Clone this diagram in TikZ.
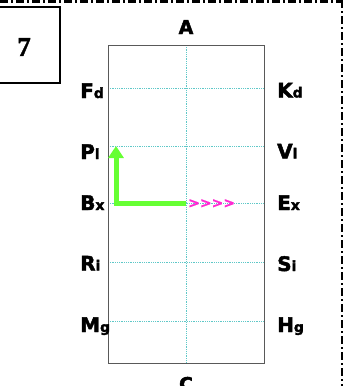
\documentclass[tikz,border=0pt]{standalone}
\usepackage{fontspec}
\usepackage{tikz}
\usetikzlibrary{arrows.meta}
\newfontfamily\lblfont{DejaVu Sans}[UprightFont={* Bold}, FakeBold=2.2]
\newfontfamily\chevfont{DejaVu Sans}[UprightFont={* Bold}, FakeBold=1]
\newfontfamily\numfont{Liberation Serif}[UprightFont={* Bold}, FakeBold=1.5]
\definecolor{gridcyan}{RGB}{95,200,200}
\definecolor{arrowgreen}{RGB}{102,255,51}
\definecolor{chevmagenta}{RGB}{255,40,210}
\newcommand{\lbl}[2]{{\fontsize{20}{20}\selectfont #1}{\fontsize{14}{14}\selectfont #2}}

\begin{document}
\begin{tikzpicture}[x=1pt, y=-1pt, >=Stealth,
		font=\lblfont,
		gridline/.style={gridcyan, densely dotted, line width=0.8pt},
		sidelabel/.style={anchor=base west, inner sep=0pt}]
		\useasboundingbox (0,0) rectangle (345,386);
		% frame borders, dash-dot
		\draw[line width=3pt, dash pattern=on 8pt off 3pt on 2pt off 3pt] (0,1.5) -- (342,1.5);
		\draw[line width=2pt, dash pattern=on 8pt off 3pt on 2pt off 3pt] (342,0) -- (342,386);
		% number box
		\draw[line width=2pt] (-2,6.5) rectangle (60,82.5);
		\node (num) at (24,47) {\numfont\fontsize{27}{27}\selectfont 7};
		% main rectangle and dotted grid
		\coordinate (TL) at (108,45);
		\coordinate (BR) at (264,363);
		\coordinate (Top) at (186,45);
		\coordinate (Bot) at (186,363);
		\draw[gridline] (Top) -- (Bot);
		\draw[gridline] (108,88) -- (264,88);
		\draw[gridline] (108,146) -- (264,146);
		\draw[gridline] (108,203) -- (264,203);
		\draw[gridline] (108,262) -- (264,262);
		\draw[gridline] (108,321) -- (264,321);
		\draw[black!65, line width=0.9pt] (TL) rectangle (BR);
		\node[anchor=base] (A) at (186,34) {\fontsize{19}{19}\selectfont A};
		\node[anchor=base] (C) at (186,391) {\fontsize{19}{19}\selectfont C};
		% side labels
		\node[sidelabel] (Fd) at (80,98) {\lbl{F}{d}};
		\node[sidelabel] (Pl) at (80,159) {\lbl{P}{l}};
		\node[sidelabel] (Bx) at (80,210) {\lbl{B}{x}};
		\node[sidelabel] (Ri) at (80,270.5) {\lbl{R}{i}};
		\node[sidelabel] (Mg) at (80,332) {\lbl{M}{g}};
		\node[sidelabel] (Kd) at (277,97.5) {\lbl{K}{d}};
		\node[sidelabel] (Vl) at (277,158.5) {\lbl{V}{l}};
		\node[sidelabel] (Ex) at (277,210) {\lbl{E}{x}};
		\node[sidelabel] (Si) at (277,271) {\lbl{S}{i}};
		\node[sidelabel] (Hg) at (277,332) {\lbl{H}{g}};
		% path arrow and chevrons
		\coordinate (start) at (186,203);
		\coordinate (goal) at (116,146);
		\draw[arrowgreen, line width=5pt, -{Triangle[width=15pt,length=12pt]}] (start) -| (goal);
		\node[chevmagenta, anchor=west, inner sep=0pt, font=\chevfont] (chev) at (188,203.5) {\fontsize{14}{14}\selectfont >>>>};
	\end{tikzpicture}
\end{document}
